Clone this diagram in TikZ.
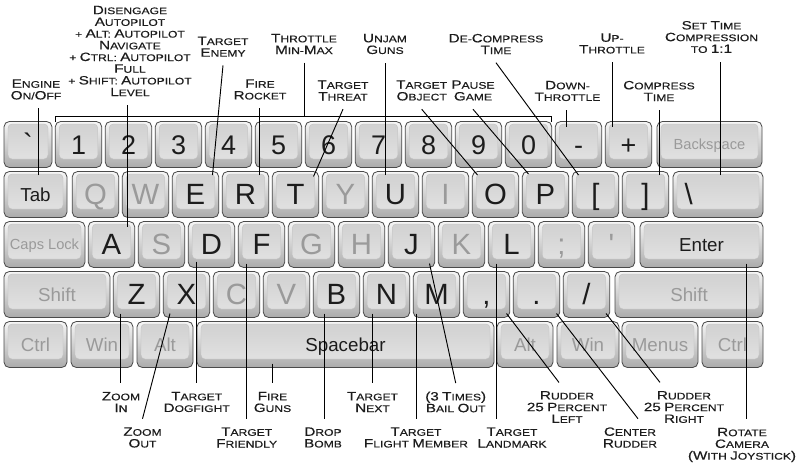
\documentclass[tikz,border=0pt]{standalone}
\usepackage{fontspec}
\newfontfamily\keyfont{Liberation Sans}
\newfontfamily\lblfont[FakeStretch=1.26, FakeBold=0.4]{Liberation Sans}

\definecolor{keyedge}{HTML}{4A4A4A}
\definecolor{keytop}{HTML}{F6F6F6}
\definecolor{keybot}{HTML}{ABABAB}
\definecolor{facetop}{HTML}{D0D0D0}
\definecolor{facebot}{HTML}{E4E4E4}
\definecolor{faceedge}{HTML}{C0C0C0}
\definecolor{inactive}{HTML}{9A9A9A}
\definecolor{active}{HTML}{1C1C1C}

% fake small caps for the callouts
\newcommand\bigc[1]{{\fontsize{10.3}{10.3}\selectfont #1}}
\def\smcsplit#1#2\relax{\bigc{#1}\MakeUppercase{#2}}
\newcommand\smc[1]{\smcsplit#1\relax}

\tikzset{
  kbkey/.style={draw=keyedge, line width=0.7pt, rounded corners=1.6mm,
    top color=keytop, bottom color=keybot,
    minimum width=46.5*0.3mm, minimum height=46*0.3mm,
    inner sep=0pt, outer sep=0pt, text=active,
    font=\keyfont\fontsize{25}{25}\selectfont, text height=17.9pt, text depth=0pt,
    path picture={\shade[top color=facetop, bottom color=facebot, draw=faceedge,
      line width=0.3pt, rounded corners=1.2mm]
      ([shift={(1.2mm,-0.75mm)}]path picture bounding box.north west) rectangle
      ([shift={(-1.2mm,2.55mm)}]path picture bounding box.south east);}},
  kw/.style={minimum width=#1*0.3mm},
  dim/.style={text=inactive},
  digit/.style={font=\keyfont\fontsize{23}{23}\selectfont, text height=16.5pt},
  keyname/.style={font=\keyfont\fontsize{16}{16}\selectfont, text height=11.5pt},
  keysmall/.style={font=\keyfont\fontsize{12.5}{12.5}\selectfont, text height=9pt},
  callout/.style={font=\lblfont\fontsize{8.2}{10}\selectfont, align=center,
    inner sep=0pt, outer sep=2.6mm, text=active},
  conn/.style={line width=0.8pt}
}

\begin{document}
\begin{tikzpicture}[x=0.3mm, y=-0.3mm]
    \useasboundingbox (0,0) rectangle (797,466);

    % number row
    \node[kbkey, kw=48] (kGrave) at (28,144.5) {\textasciigrave};
    \foreach \d [count=\i from 0] in {1,2,3,4,5,6,7,8,9,0}
        \node[kbkey, digit] (k\d) at (78.5+50*\i,144.5) {\d};
    \node[kbkey, digit] (kMinus) at (578.5,144.5) {-};
    \node[kbkey, digit] (kPlus) at (628.5,144.5) {+};
    \node[kbkey, kw=105, keysmall, dim] (kBack) at (709.5,144.5) {Backspace};

    % top letter row
    \node[kbkey, kw=63, keyname] (kTab) at (35.5,194.5) {Tab};
    \foreach \nm/\lab/\col [count=\i from 0] in {Q/Q/inactive, W/W/inactive, E/E/active,
        R/R/active, T/T/active, Y/Y/inactive, U/U/active, I/I/inactive, O/O/active,
        P/P/active, LBr/{[}/active, RBr/{]}/active}
        \node[kbkey, text=\col] (k\nm) at (95.5+50*\i,194.5) {\lab};
    \node[kbkey, kw=90] (kBslash) at (718,194.5) {\makebox[20mm][l]{\textbackslash}};

    % home row
    \node[kbkey, kw=81, keysmall, dim] (kCaps) at (44.5,244.5) {Caps Lock};
    \foreach \nm/\lab/\col [count=\i from 0] in {A/A/active, S/S/inactive, D/D/active,
        F/F/active, G/G/inactive, H/H/inactive, J/J/active, K/K/inactive, L/L/active,
        Semi/;/inactive, Quote/\textquotesingle/inactive}
        \node[kbkey, text=\col] (k\nm) at (111.5+50*\i,244.5) {\lab};
    \node[kbkey, kw=123, keyname] (kEnter) at (701.5,244.5) {Enter};

    % bottom letter row
    \node[kbkey, kw=106, keyname, dim] (kLShift) at (57,294.5) {Shift};
    \foreach \nm/\lab/\col [count=\i from 0] in {Z/Z/active, X/X/active, C/C/inactive,
        V/V/inactive, B/B/active, N/N/active, M/M/active, Comma/{,}/active,
        Dot/./active, Slash/{/}/active}
        \node[kbkey, text=\col] (k\nm) at (136.5+50*\i,294.5) {\lab};
    \node[kbkey, kw=148, keyname, dim] (kRShift) at (689,294.5) {Shift};

    % space row
    \node[kbkey, kw=63, keyname, dim] (kLCtrl) at (35.5,344.5) {Ctrl};
    \node[kbkey, kw=62, keyname, dim] (kLWin) at (102,344.5) {Win};
    \node[kbkey, kw=56, keyname, dim] (kLAlt) at (165,344.5) {Alt};
    \node[kbkey, kw=297, keyname] (kSpace) at (345.5,344.5) {Spacebar};
    \node[kbkey, kw=56, keyname, dim] (kRAlt) at (525,344.5) {Alt};
    \node[kbkey, kw=62, keyname, dim] (kRWin) at (588,344.5) {Win};
    \node[kbkey, kw=76, keyname, dim] (kMenus) at (660,344.5) {Menus};
    \node[kbkey, kw=61, keyname, dim] (kRCtrl) at (732.5,344.5) {Ctrl};

    % callouts above
    \node[callout] (lEngine) at (36,89.5) {\smc{Engine}\\\smc{On}/\smc{Off}};
    \node[callout] (lDisengage) at (130,51) {\smc{Disengage}\\\smc{Autopilot}\\
        + \smc{Alt}: \smc{Autopilot}\\\smc{Navigate}\\+ \smc{Ctrl}: \smc{Autopilot}\\
        \smc{Full}\\+ \smc{Shift}: \smc{Autopilot}\\\smc{Level}};
    \node[callout] (lEnemy) at (223,46.7) {\smc{Target}\\\smc{Enemy}};
    \node[callout] (lRocket) at (260,89.5) {\smc{Fire}\\\smc{Rocket}};
    \node[callout] (lThrottle) at (304,44) {\smc{Throttle}\\\smc{Min}-\smc{Max}};
    \node[callout] (lThreat) at (343,90.5) {\smc{Target}\\\smc{Threat}};
    \node[callout] (lUnjam) at (385,44) {\smc{Unjam}\\\smc{Guns}};
    \node[callout] (lObject) at (421.7,90.5) {\smc{Target}\\\smc{Object}};
    \node[callout] (lPause) at (473,90.5) {\smc{Pause}\\\smc{Game}};
    \node[callout] (lDeComp) at (496,44) {\smc{De}-\smc{Compress}\\\smc{Time}};
    \node[callout] (lDownThr) at (567.5,91) {\smc{Down}-\\\smc{Throttle}};
    \node[callout] (lUpThr) at (612,43.5) {\smc{Up}-\\\smc{Throttle}};
    \node[callout] (lCompress) at (659,91) {\smc{Compress}\\\smc{Time}};
    \node[callout] (lSetTime) at (711.5,37) {\smc{Set} \smc{Time}\\\smc{Compression}\\TO \bigc{1:1}};

    % callouts below
    \node[callout] (lZoomIn) at (121,402) {\smc{Zoom}\\\smc{In}};
    \node[callout] (lZoomOut) at (142.5,437.5) {\smc{Zoom}\\\smc{Out}};
    \node[callout] (lDogfight) at (196.7,402) {\smc{Target}\\\smc{Dogfight}};
    \node[callout] (lFireGuns) at (272.5,402) {\smc{Fire}\\\smc{Guns}};
    \node[callout] (lFriendly) at (246.7,437.5) {\smc{Target}\\\smc{Friendly}};
    \node[callout] (lDropBomb) at (323,437.5) {\smc{Drop}\\\smc{Bomb}};
    \node[callout] (lNext) at (372.5,402) {\smc{Target}\\\smc{Next}};
    \node[callout] (lFlight) at (416,437.5) {\smc{Target}\\\smc{Flight} \smc{Member}};
    \node[callout] (lBailOut) at (455.7,402) {\bigc{(3} \smc{Times}\bigc{)}\\\smc{Bail} \smc{Out}};
    \node[callout] (lLandmark) at (512,437.5) {\smc{Target}\\\smc{Landmark}};
    \node[callout] (lRudL) at (567,407) {\smc{Rudder}\\\bigc{25} \smc{Percent}\\\smc{Left}};
    \node[callout] (lCenter) at (630,437.5) {\smc{Center}\\\smc{Rudder}};
    \node[callout] (lRudR) at (684,407) {\smc{Rudder}\\\bigc{25} \smc{Percent}\\\smc{Right}};
    \node[callout] (lRotate) at (742,445) {\smc{Rotate}\\\smc{Camera}\\\bigc{(}\smc{With} \smc{Joystick}\bigc{)}};

    % bracket over the number keys
    \draw[conn] (k1.north west) -- ++(0,-5) coordinate (bracket) -| (k0.north east);
    \draw[conn] (lThrottle.south) -- (lThrottle.south |- bracket);

    % leaders to the keys above
    \draw[conn] ([shift={(2.5,3.5)}]kTab.north) coordinate (cTab) -- (cTab |- lEngine.south);
    \draw[conn] ([shift={(16,5)}]kA.north) coordinate (cA) -- (cA |- lDisengage.south);
    \draw[conn] (lEnemy.south) -- ([shift={(17,3.5)}]kE.north);
    \draw[conn] ([shift={(13.5,3.5)}]kR.north) coordinate (cR) -- (cR |- lRocket.south);
    \draw[conn] (lThreat.south) -- ([shift={(18,5)}]kT.north);
    \draw[conn] ([shift={(-10,3.5)}]kU.north) coordinate (cU) -- (cU |- lUnjam.south);
    \draw[conn] (lObject.south) -- ([shift={(-18,3.5)}]kO.north);
    \draw[conn] (lPause.south) -- ([shift={(-17,2.5)}]kP.north);
    \draw[conn] (lDeComp.south) -- ([shift={(-17,3.5)}]kLBr.north);
    \draw[conn] ([shift={(-12,5)}]kMinus.north) coordinate (cMinus) -- (cMinus |- lDownThr.south);
    \draw[conn] ([shift={(-16,5)}]kPlus.north) coordinate (cPlus) -- (cPlus |- lUpThr.south);
    \draw[conn] ([shift={(14,3.5)}]kRBr.north) coordinate (cRBr) -- (cRBr |- lCompress.south);
    \draw[conn] ([shift={(2,3.5)}]kBslash.north) coordinate (cBslash) -- (cBslash |- lSetTime.south);

    % leaders to the keys below
    \draw[conn] ([shift={(-16,-4)}]kZ.south) coordinate (cZ) -- (cZ |- lZoomIn.north);
    \draw[conn] ([shift={(-16.5,-4)}]kX.south) -- (lZoomOut.north);
    \draw[conn] ([shift={(-15,-6)}]kD.south) coordinate (cD) -- (cD |- lDogfight.north);
    \draw[conn] ([shift={(-15,-4)}]kF.south) coordinate (cF) -- (cF |- lFriendly.north);
    \draw[conn] ([shift={(-73,-4)}]kSpace.south) coordinate (cSpace) -- (cSpace |- lFireGuns.north);
    \draw[conn] ([shift={(-12.5,-4)}]kB.south) coordinate (cB) -- (cB |- lDropBomb.north);
    \draw[conn] ([shift={(-14,-4)}]kN.south) coordinate (cN) -- (cN |- lNext.north);
    \draw[conn] ([shift={(-20.5,-4)}]kM.south) coordinate (cM) -- (cM |- lFlight.north);
    \draw[conn] ([shift={(18,-4)}]kJ.south) -- (lBailOut.north);
    \draw[conn] ([shift={(-15.5,-4)}]kL.south) coordinate (cL) -- (cL |- lLandmark.north);
    \draw[conn] ([shift={(20,-4)}]kComma.south) -- ([shift={(-8,0)}]lRudL.north);
    \draw[conn] ([shift={(20,-4)}]kDot.south) -- ([shift={(8,0)}]lCenter.north);
    \draw[conn] ([shift={(19.5,-4)}]kSlash.south) -- ([shift={(-24,0)}]lRudR.north);
    \draw[conn] ([shift={(44.5,-4)}]kEnter.south) coordinate (cEnter) -- (cEnter |- lRotate.north);
\end{tikzpicture}
\end{document}
